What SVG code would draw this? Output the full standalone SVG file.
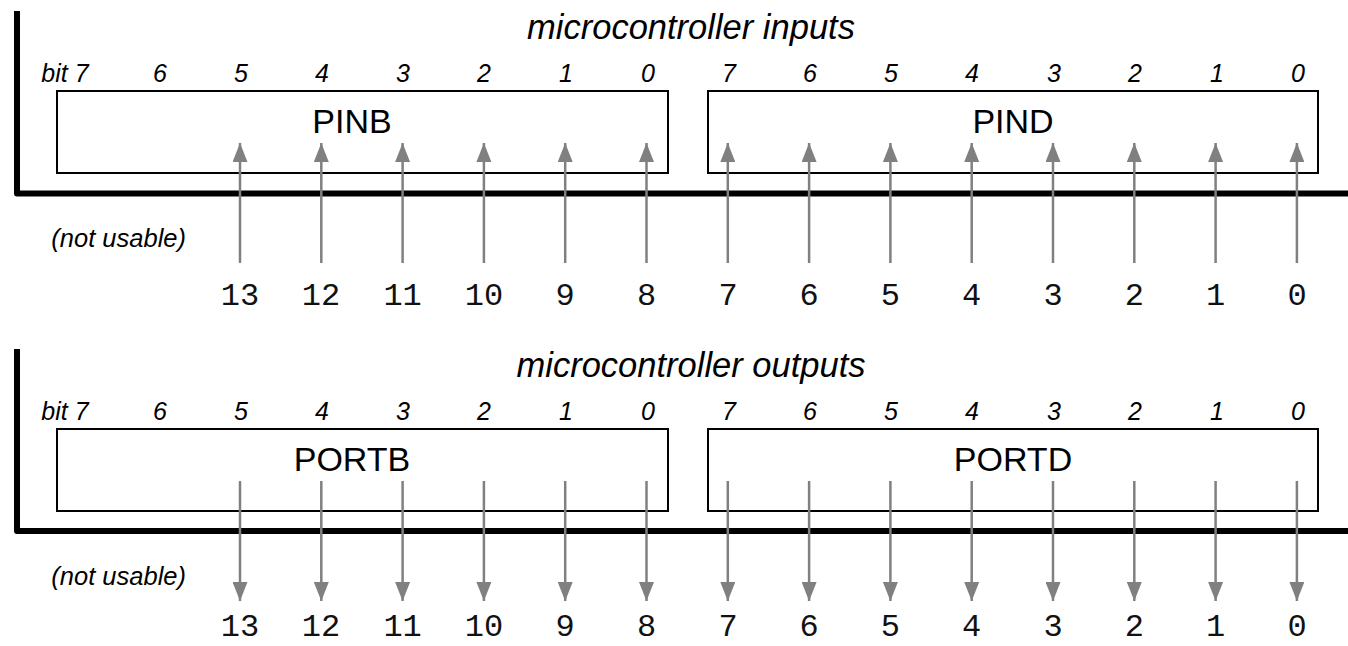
<svg xmlns="http://www.w3.org/2000/svg" width="1348" height="646" viewBox="0 0 1348 646">
<style>
.bg{fill:#fff}
.frame{fill:none;stroke:#000;stroke-width:6;stroke-linejoin:round;stroke-linecap:butt}
.box{fill:#fff;stroke:#000;stroke-width:2}
.title{font-family:"Liberation Sans",Arial,sans-serif;font-style:italic;font-size:34.5px;text-anchor:middle;fill:#000}
.bit{font-family:"Liberation Sans",Arial,sans-serif;font-style:italic;font-size:25px;text-anchor:middle;fill:#000}
.note{font-family:"Liberation Sans",Arial,sans-serif;font-style:italic;font-size:25.5px;text-anchor:end;fill:#000}
.reg{font-family:"Liberation Sans",Arial,sans-serif;font-size:34px;text-anchor:middle;fill:#000}
.pin{font-family:"Liberation Mono","Courier New",monospace;font-size:32px;text-anchor:middle;fill:#111}
.wire{stroke:#808080;stroke-width:2.5;fill:none;marker-end:url(#ah)}
</style>
<defs>
<marker id="ah" viewBox="0 0 19 15" refX="19" refY="7.5" markerWidth="19" markerHeight="15" markerUnits="userSpaceOnUse" orient="auto">
<path d="M0,0 L19,7.5 L0,15 z" fill="#808080"/>
</marker>
</defs>
<rect class="bg" x="0" y="0" width="1348" height="646"/>

<g id="inputs-frame">
<path class="frame" d="M17,11 V193.5 H1348"/>
<text class="title" x="691" y="39">microcontroller inputs</text>
<text class="note" x="186" y="247">(not usable)</text>
</g>

<g id="PINB">
<rect class="box" x="57" y="91" width="611" height="82"/>
<text class="reg" x="352" y="133">PINB</text>
<text class="bit" x="65" y="82">bit 7</text>
<text class="bit" x="160" y="82">6</text>
<text class="bit" x="241" y="82">5</text>
<text class="bit" x="322" y="82">4</text>
<text class="bit" x="403" y="82">3</text>
<text class="bit" x="484" y="82">2</text>
<text class="bit" x="566" y="82">1</text>
<text class="bit" x="648" y="82">0</text>
</g>

<g id="PIND">
<rect class="box" x="708" y="91" width="610" height="82"/>
<text class="reg" x="1013" y="133">PIND</text>
<text class="bit" x="729" y="82">7</text>
<text class="bit" x="810" y="82">6</text>
<text class="bit" x="891" y="82">5</text>
<text class="bit" x="972" y="82">4</text>
<text class="bit" x="1054" y="82">3</text>
<text class="bit" x="1135" y="82">2</text>
<text class="bit" x="1217" y="82">1</text>
<text class="bit" x="1298" y="82">0</text>
</g>

<g id="input-pins">
<text class="pin" x="240" y="305">13</text>
<text class="pin" x="321" y="305">12</text>
<text class="pin" x="402.6" y="305">11</text>
<text class="pin" x="484" y="305">10</text>
<text class="pin" x="565" y="305">9</text>
<text class="pin" x="646.5" y="305">8</text>
<text class="pin" x="728" y="305">7</text>
<text class="pin" x="809" y="305">6</text>
<text class="pin" x="890.4" y="305">5</text>
<text class="pin" x="971.7" y="305">4</text>
<text class="pin" x="1053" y="305">3</text>
<text class="pin" x="1134.3" y="305">2</text>
<text class="pin" x="1215.6" y="305">1</text>
<text class="pin" x="1297" y="305">0</text>
</g>

<g id="outputs-frame">
<path class="frame" d="M17,349 V531 H1348"/>
<text class="title" x="691" y="377">microcontroller outputs</text>
<text class="note" x="186" y="585">(not usable)</text>
</g>

<g id="PORTB">
<rect class="box" x="57" y="429" width="611" height="82"/>
<text class="reg" x="352" y="471">PORTB</text>
<text class="bit" x="65" y="420">bit 7</text>
<text class="bit" x="160" y="420">6</text>
<text class="bit" x="241" y="420">5</text>
<text class="bit" x="322" y="420">4</text>
<text class="bit" x="403" y="420">3</text>
<text class="bit" x="484" y="420">2</text>
<text class="bit" x="566" y="420">1</text>
<text class="bit" x="648" y="420">0</text>
</g>

<g id="PORTD">
<rect class="box" x="708" y="429" width="610" height="82"/>
<text class="reg" x="1013" y="471">PORTD</text>
<text class="bit" x="729" y="420">7</text>
<text class="bit" x="810" y="420">6</text>
<text class="bit" x="891" y="420">5</text>
<text class="bit" x="972" y="420">4</text>
<text class="bit" x="1054" y="420">3</text>
<text class="bit" x="1135" y="420">2</text>
<text class="bit" x="1217" y="420">1</text>
<text class="bit" x="1298" y="420">0</text>
</g>

<g id="output-pins">
<text class="pin" x="240" y="636">13</text>
<text class="pin" x="321" y="636">12</text>
<text class="pin" x="402.6" y="636">11</text>
<text class="pin" x="484" y="636">10</text>
<text class="pin" x="565" y="636">9</text>
<text class="pin" x="646.5" y="636">8</text>
<text class="pin" x="728" y="636">7</text>
<text class="pin" x="809" y="636">6</text>
<text class="pin" x="890.4" y="636">5</text>
<text class="pin" x="971.7" y="636">4</text>
<text class="pin" x="1053" y="636">3</text>
<text class="pin" x="1134.3" y="636">2</text>
<text class="pin" x="1215.6" y="636">1</text>
<text class="pin" x="1297" y="636">0</text>
</g>

<g id="connectors">
<path class="wire" d="M240,263 V143"/>
<path class="wire" d="M321.3,263 V143"/>
<path class="wire" d="M402.6,263 V143"/>
<path class="wire" d="M483.9,263 V143"/>
<path class="wire" d="M565.2,263 V143"/>
<path class="wire" d="M646.5,263 V143"/>
<path class="wire" d="M727.8,263 V143"/>
<path class="wire" d="M809.1,263 V143"/>
<path class="wire" d="M890.4,263 V143"/>
<path class="wire" d="M971.7,263 V143"/>
<path class="wire" d="M1053,263 V143"/>
<path class="wire" d="M1134.3,263 V143"/>
<path class="wire" d="M1215.6,263 V143"/>
<path class="wire" d="M1296.9,263 V143"/>
<path class="wire" d="M240,481 V601"/>
<path class="wire" d="M321.3,481 V601"/>
<path class="wire" d="M402.6,481 V601"/>
<path class="wire" d="M483.9,481 V601"/>
<path class="wire" d="M565.2,481 V601"/>
<path class="wire" d="M646.5,481 V601"/>
<path class="wire" d="M727.8,481 V601"/>
<path class="wire" d="M809.1,481 V601"/>
<path class="wire" d="M890.4,481 V601"/>
<path class="wire" d="M971.7,481 V601"/>
<path class="wire" d="M1053,481 V601"/>
<path class="wire" d="M1134.3,481 V601"/>
<path class="wire" d="M1215.6,481 V601"/>
<path class="wire" d="M1296.9,481 V601"/>
</g>
</svg>
